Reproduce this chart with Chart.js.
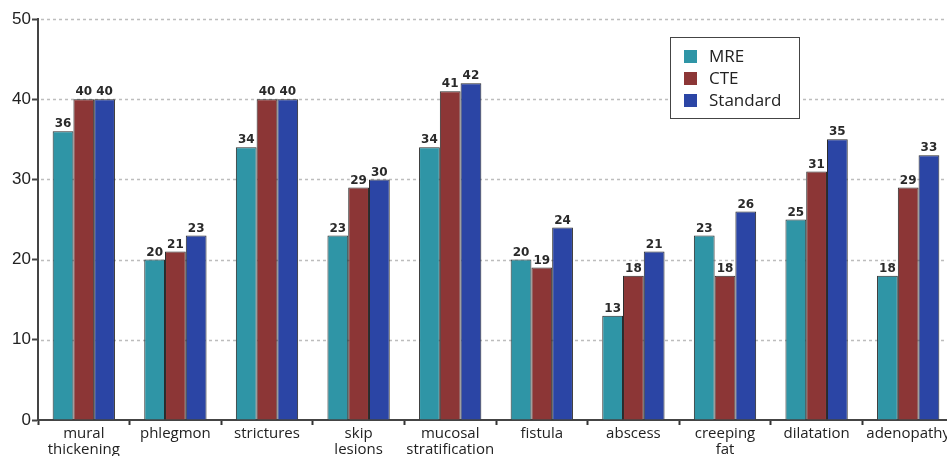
<!DOCTYPE html>
<html><head><meta charset="utf-8">
<script src="https://cdn.jsdelivr.net/npm/chart.js@4"></script>
<style>
html,body{margin:0;padding:0;background:#fff;overflow:hidden}
#wrap{width:956px;height:456px;position:relative}
</style></head>
<body><div id="wrap"><canvas id="c" width="956" height="456"></canvas></div>
<script>
// Findings detected by each imaging technique
const categories = [["mural","thickening"],"phlegmon","strictures",["skip","lesions"],["mucosal","stratification"],"fistula","abscess",["creeping","fat"],"dilatation","adenopathy"];
const mreValues = [36,20,34,23,34,20,13,23,25,18];
const cteValues = [40,21,40,29,41,19,18,18,31,29];
const standardValues = [40,23,40,30,42,24,21,26,35,33];
const seriesNames = ["MRE","CTE","Standard"];
const seriesColors = ["#2f95a6","#8c3636","#2b45a5"];
const yTicks = [0,10,20,30,40,50];

const LABEL_FONT = "'Open Sans', sans-serif";

// dotted horizontal guide lines behind the bars
const dottedGrid = {
  id: 'dottedGrid',
  beforeDatasetsDraw(chart) {
    const {ctx, chartArea, scales} = chart;
    ctx.save();
    ctx.strokeStyle = '#bdbdbd';
    ctx.lineWidth = 1.5;
    ctx.setLineDash([3,3]);
    yTicks.forEach(v => {
      if (v === 0) return;
      const y = Math.round(scales.y.getPixelForValue(v)) + 0.5;
      ctx.beginPath();
      ctx.moveTo(chartArea.left + 3, y);
      ctx.lineTo(chartArea.right, y);
      ctx.stroke();
    });
    ctx.restore();
  }
};

// value printed above every bar
const valueLabels = {
  id: 'valueLabels',
  afterDatasetsDraw(chart) {
    const {ctx} = chart;
    ctx.save();
    ctx.font = "bold 12px 'DejaVu Sans', sans-serif";
    ctx.textAlign = 'center';
    ctx.textBaseline = 'bottom';
    chart.data.datasets.forEach((ds, i) => {
      chart.getDatasetMeta(i).data.forEach((bar, j) => {
        const txt = String(ds.data[j]);
        ctx.lineWidth = 3;
        ctx.strokeStyle = 'rgba(255,255,255,0.8)';
        ctx.strokeText(txt, bar.x, bar.y - 1);
        ctx.fillStyle = '#2a2a2a';
        ctx.fillText(txt, bar.x, bar.y - 1);
      });
    });
    ctx.restore();
  }
};

// boxed legend inside the plot area
const boxLegend = {
  id: 'boxLegend',
  afterDraw(chart) {
    const {ctx} = chart;
    const x = 670, y = 37, w = 129, h = 81;
    ctx.save();
    ctx.fillStyle = '#fff';
    ctx.fillRect(x, y, w, h);
    ctx.strokeStyle = '#444';
    ctx.lineWidth = 1;
    ctx.strokeRect(x + 0.5, y + 0.5, w, h);
    ctx.font = "17px " + LABEL_FONT;
    ctx.textBaseline = 'middle';
    ctx.textAlign = 'left';
    seriesNames.forEach((name, i) => {
      const cy = y + 19 + i * 22;
      ctx.fillStyle = seriesColors[i];
      ctx.fillRect(x + 14, cy - 6, 13, 13);
      ctx.fillStyle = '#222';
      ctx.fillText(name, x + 39, cy + 1);
    });
    ctx.restore();
  }
};

const datasets = [mreValues, cteValues, standardValues].map((vals, i) => ({
  label: seriesNames[i],
  data: vals,
  backgroundColor: seriesColors[i],
  borderColor: '#2a2a2a',
  borderWidth: 1,
  categoryPercentage: 0.68,
  barPercentage: 1.0
}));

new Chart(document.getElementById('c'), {
  type: 'bar',
  data: { labels: categories, datasets },
  options: {
    responsive: false,
    animation: false,
    layout: { padding: { top: 19, right: 2, left: 0, bottom: 0 } },
    plugins: { legend: { display: false }, tooltip: { enabled: false } },
    scales: {
      x: {
        afterFit: s => { s.height = 36; },
        grid: { display: true, drawOnChartArea: false, drawTicks: true, tickLength: 5, tickColor: '#333', tickWidth: 2, offset: true },
        border: { display: true, color: '#444', width: 2 },
        ticks: { color: '#222', font: { family: LABEL_FONT, size: 15, lineHeight: 1.1 }, padding: 0, maxRotation: 0, autoSkip: false }
      },
      y: {
        min: 0, max: 50,
        afterFit: s => { s.width = 38; },
        afterBuildTicks: s => { s.ticks = yTicks.map(v => ({ value: v })); },
        grid: { display: true, drawOnChartArea: false, drawTicks: true, tickLength: 6, tickColor: '#444', tickWidth: 2 },
        border: { display: true, color: '#444', width: 2 },
        ticks: { color: '#222', font: { family: "'Liberation Sans', Arial, sans-serif", size: 17 }, padding: 1 }
      }
    }
  },
  plugins: [dottedGrid, valueLabels, boxLegend]
});
</script>
</body></html>
